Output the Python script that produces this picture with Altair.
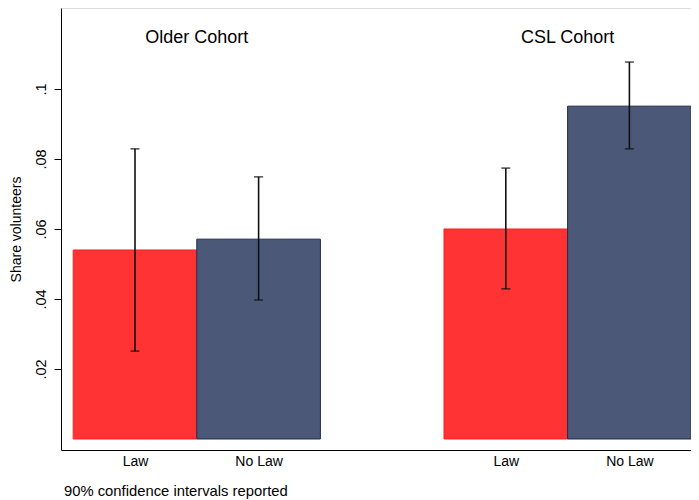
import altair as alt
import pandas as pd

cohorts = ["Older Cohort", "Older Cohort", "CSL Cohort", "CSL Cohort"]
laws = ["Law", "No Law", "Law", "No Law"]
share = [0.054, 0.0571, 0.060, 0.0951]
ci_low = [0.0251, 0.0397, 0.0429, 0.0829]
ci_high = [0.0829, 0.0749, 0.0774, 0.1077]
y_ticks = [0.02, 0.04, 0.06, 0.08, 0.1]
footnote = "90% confidence intervals reported"
y_title = "Share volunteers"

cohort_order = ["Older Cohort", "CSL Cohort"]
law_order = ["Law", "No Law"]

df = pd.DataFrame({"cohort": cohorts, "law": laws, "share": share,
                   "lo": ci_low, "hi": ci_high})
df["pos"] = [cohort_order.index(c) * 3 + law_order.index(l) + 1 for c, l in zip(cohorts, laws)]
df["x0"] = df["pos"] - 0.5
df["x1"] = df["pos"] + 0.5

titles = df.groupby("cohort", sort=False)["pos"].mean().reset_index()
notes = pd.DataFrame({"note": [footnote]})

FONT = "Liberation Sans"
xscale = alt.Scale(domain=[0.4013, 5.4984], nice=False, zero=False)
yscale = alt.Scale(domain=[-0.003143, 0.12314], nice=False, zero=False)

label_map = "{" + ",".join(f"'{p}':'{l}'" for p, l in zip(df["pos"], df["law"])) + "}"

xaxis = alt.Axis(values=list(df["pos"]), labelExpr=f"{label_map}[datum.value + '']",
                 ticks=False, grid=False, title=None, domainColor="black",
                 labelFont=FONT, labelFontSize=14, labelColor="black", labelPadding=4)
yaxis = alt.Axis(values=y_ticks, labelExpr="substring(format(datum.value, '.2~f'), 1)",
                 grid=False, title=y_title, domainColor="black", tickColor="black",
                 tickSize=7, labelAngle=270, labelAlign="center", labelBaseline="bottom",
                 labelPadding=6, labelFont=FONT, labelFontSize=14.5, labelColor="black",
                 titleFont=FONT, titleFontSize=14, titleFontWeight="normal",
                 titleColor="black", titlePadding=10)

base = alt.Chart(df)

bars = base.mark_rect(strokeWidth=1).encode(
    x=alt.X("x0:Q", scale=xscale, axis=xaxis),
    x2="x1:Q",
    y=alt.Y("zero:Q", scale=yscale, axis=yaxis),
    y2="share:Q",
    fill=alt.Fill("law:N", scale=alt.Scale(domain=law_order, range=["#ff3333", "#4b5877"]), legend=None),
    stroke=alt.Stroke("law:N", scale=alt.Scale(domain=law_order, range=["#ff1f1f", "#1f2c4e"]), legend=None),
).transform_calculate(zero="0")

rules = base.mark_rule(color="#111111", strokeWidth=1.6).encode(
    x=alt.X("pos:Q", scale=xscale),
    y=alt.Y("lo:Q", scale=yscale),
    y2="hi:Q",
)
cap_lo = base.mark_tick(orient="horizontal", size=9, thickness=1.6, color="#111111").encode(
    x=alt.X("pos:Q", scale=xscale), y=alt.Y("lo:Q", scale=yscale))
cap_hi = base.mark_tick(orient="horizontal", size=9, thickness=1.6, color="#111111").encode(
    x=alt.X("pos:Q", scale=xscale), y=alt.Y("hi:Q", scale=yscale))

tit = alt.Chart(titles).mark_text(font=FONT, fontSize=18, color="black", baseline="middle").encode(
    x=alt.X("pos:Q", scale=xscale),
    y=alt.value(30),
    text="cohort:N",
)

note = alt.Chart(notes).mark_text(font=FONT, fontSize=14.8, color="black", align="left",
                                  baseline="alphabetic").encode(
    x=alt.value(3),
    y=alt.value(488),
    text="note:N",
)

chart = alt.layer(bars, rules, cap_lo, cap_hi, tit, note).properties(
    width=630, height=442,
    padding={"left": 53, "top": 0, "right": 0, "bottom": 50},
    autosize=alt.AutoSizeParams(type="none"),
).configure_view(stroke=None).configure(background="white")

chart.save("out.html", embed_options={"renderer": "svg", "actions": False})
